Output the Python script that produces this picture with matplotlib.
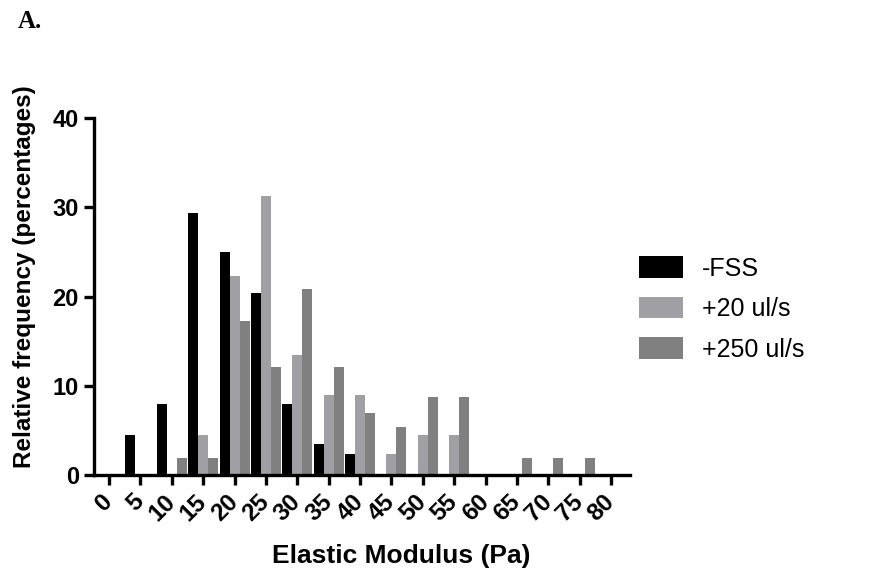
import numpy as np
import matplotlib.pyplot as plt

# Bins (Pa) and relative frequencies (%)
bins = [0, 5, 10, 15, 20, 25, 30, 35, 40, 45, 50, 55, 60, 65, 70, 75, 80]
fss = [0, 4.5, 7.9, 29.4, 25.0, 20.4, 7.9, 3.4, 2.3, 0, 0, 0, 0, 0, 0, 0, 0]
ul20 = [0, 0, 0, 4.5, 22.3, 31.3, 13.4, 8.9, 8.9, 2.3, 4.5, 4.5, 0, 0, 0, 0, 0]
ul250 = [0, 0, 1.9, 1.9, 17.3, 12.1, 20.8, 12.1, 6.9, 5.3, 8.7, 8.7, 0, 1.9, 1.9, 1.9, 0]

labels = ['-FSS', '+20 ul/s', '+250 ul/s']
colors = ['#000000', '#a0a0a4', '#808080']

plt.rcParams['font.family'] = ['Liberation Sans', 'DejaVu Sans']

fig = plt.figure(figsize=(8.74, 5.86), dpi=100)
ax = fig.add_axes([0.1076, 0.19, 0.613, 0.608])

x = np.array(bins, dtype=float)
w = 1.6
for i, vals in enumerate([fss, ul20, ul250]):
    ax.bar(x + (i - 1) * w, vals, width=w, color=colors[i], label=labels[i])

ax.set_xlim(-2.4, 83)
ax.set_ylim(0, 40)
ax.set_xticks(bins)
ax.set_xticklabels([str(b) for b in bins], rotation=45, ha='right', va='center',
                   rotation_mode='anchor', fontsize=17.5, fontweight='bold')
ax.set_yticks([0, 10, 20, 30, 40])
ax.set_yticklabels(['0', '10', '20', '30', '40'], fontsize=17, fontweight='bold')

for s in ['top', 'right']:
    ax.spines[s].set_visible(False)
for s in ['left', 'bottom']:
    ax.spines[s].set_linewidth(2.4)
ax.tick_params(axis='both', length=7, width=2.4, direction='out')
ax.tick_params(axis='x', pad=10)
ax.tick_params(axis='y', pad=4)

ax.set_xlabel('Elastic Modulus (Pa)', fontsize=19, fontweight='bold')
ax.xaxis.set_label_coords(0.573, -0.195)
ax.set_ylabel('Relative frequency (percentages)', fontsize=17.5, fontweight='bold')
ax.yaxis.set_label_coords(-0.108, 0.555)

ax.legend(loc='center left', bbox_to_anchor=(0.976, 0.465), frameon=False,
          fontsize=18, handlelength=1.75, handleheight=0.95, labelspacing=0.65,
          handletextpad=0.75)

fig.text(0.02, 0.963, 'A.', family=['Liberation Serif', 'DejaVu Serif'],
         fontsize=18, fontweight='bold', va='center')

fig.savefig('out.png', dpi=100)
